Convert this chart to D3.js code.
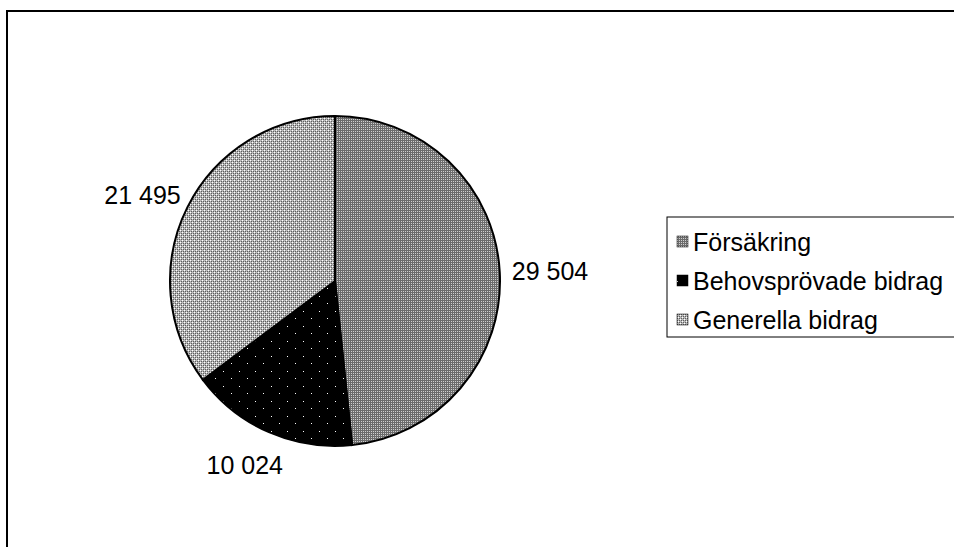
<!DOCTYPE html>
<html>
<head>
<meta charset="utf-8">
<script src="https://cdn.jsdelivr.net/npm/d3@7"></script>
<style>
  body { margin: 0; background: #fff; }
  text { font-family: "Liberation Sans", Arial, sans-serif; fill: #000; }
</style>
</head>
<body>
<script>
// data
var categories = ["Försäkring", "Behovsprövade bidrag", "Generella bidrag"]
var values = [29504, 10024, 21495]
var labels = ["29 504", "10 024", "21 495"]

var width = 954, height = 547
var cx = 335, cy = 281, radius = 165
var labelGap = [12, 22, 12]

var svg = d3.select("body").append("svg")
    .attr("width", width)
    .attr("height", height)

var defs = svg.append("defs")

// fill patterns: flat tone plus a pixel texture on top
function pixelPattern(id, size, bg, layers) {
  var p = defs.append("pattern")
      .attr("id", id)
      .attr("patternUnits", "userSpaceOnUse")
      .attr("width", size[0])
      .attr("height", size[1])
  p.append("rect").attr("width", size[0]).attr("height", size[1]).attr("fill", bg)
  layers.forEach(function(l) {
    l.pts.forEach(function(d) {
      p.append("rect")
        .attr("x", d[0]).attr("y", d[1])
        .attr("width", 1).attr("height", 1)
        .attr("shape-rendering", "crispEdges")
        .attr("fill", l.fill)
    })
  })
}

// mid gray, square grid of light dots
pixelPattern("pat0", [2, 2], "#6c6c6c", [{fill: "#d0d0d0", pts: [[0,0]]}])
// black with staggered white dots
pixelPattern("pat1", [16, 15], "#000", [{fill: "#fff", pts: [[0,0],[8,7]]}])
// light gray with dark grid and white crosses
pixelPattern("pat2", [4, 4], "#b8b8b8", [
  {fill: "#5e5e5e", pts: [[0,0],[2,0],[0,2],[2,2]]},
  {fill: "#fff", pts: [[1,1],[3,3]]}
])

var pie = d3.pie().sort(null).value(function(d) { return d })
var arcs = pie(values)
var arc = d3.arc().innerRadius(0).outerRadius(radius)

// outer frame (runs past the right and bottom edge)
svg.append("rect")
    .attr("x", 7)
    .attr("y", 11)
    .attr("width", 1000)
    .attr("height", 600)
    .attr("fill", "none")
    .attr("stroke", "#000")
    .attr("stroke-width", 2)

var g = svg.append("g").attr("transform", "translate(" + cx + "," + cy + ")")

g.selectAll("path")
  .data(arcs)
  .enter().append("path")
    .attr("d", arc)
    .attr("fill", function(d, i) { return "url(#pat" + i + ")" })
    .attr("stroke", "#000")
    .attr("stroke-width", 2)

// value labels: box pushed outward from a point just outside the rim
var lab = g.selectAll("text.val")
  .data(arcs)
  .enter().append("text")
    .attr("class", "val")
    .attr("text-anchor", "middle")
    .attr("dy", "0.35em")
    .attr("font-size", 25)
    .text(function(d, i) { return labels[i] })

lab.each(function(d, i) {
  var t = d3.select(this)
  var bb = this.getBBox()
  var a = (d.startAngle + d.endAngle) / 2
  var r = radius + labelGap[i]
  var s = Math.sin(a), c = Math.cos(a)
  t.attr("x", r * s + s * bb.width / 2)
   .attr("y", -r * c - c * bb.height / 2)
})

// legend
var legend = svg.append("g").attr("transform", "translate(667,217)")
legend.append("rect")
    .attr("width", 320)
    .attr("height", 120)
    .attr("fill", "#fff")
    .attr("stroke", "#000")
    .attr("stroke-width", 1)

var item = legend.selectAll("g.item")
  .data(categories)
  .enter().append("g")
    .attr("class", "item")
    .attr("transform", function(d, i) { return "translate(10," + (25 + i * 39) + ")" })

item.append("rect")
    .attr("x", 0).attr("y", -6)
    .attr("width", 11).attr("height", 11)
    .attr("fill", function(d, i) { return "url(#pat" + i + ")" })
    .attr("stroke", "#000")
    .attr("stroke-width", 0.5)

item.append("text")
    .attr("x", 16)
    .attr("dy", "0.35em")
    .attr("font-size", 25)
    .text(function(d) { return d })
</script>
</body>
</html>
